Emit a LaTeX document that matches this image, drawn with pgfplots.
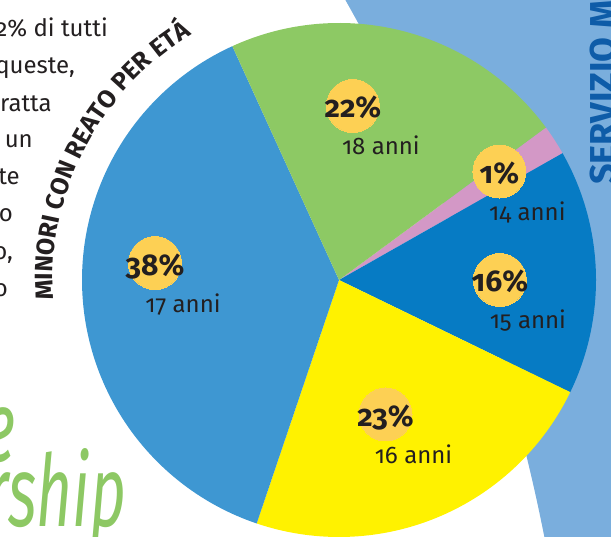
\documentclass[border=0pt]{standalone}
\usepackage{fontspec}
\setmainfont{Fira Sans}[Numbers=OldStyle]
\usepackage{pgfplots}
\pgfplotsset{compat=1.18}
\usepackage{pgfplotstable}
\usetikzlibrary{decorations.text}

\definecolor{cGreen}{RGB}{141,201,100}
\definecolor{cPink}{RGB}{211,152,198}
\definecolor{cDark}{RGB}{6,123,196}
\definecolor{cYel}{RGB}{255,242,0}
\definecolor{cMid}{RGB}{62,151,210}
\definecolor{cBg}{RGB}{122,174,221}
\definecolor{cCirc}{RGB}{253,208,84}
\definecolor{cText}{RGB}{35,31,32}
\definecolor{cServ}{RGB}{14,92,168}
\definecolor{cScript}{RGB}{141,200,100}

% slice shares (percent), drawn clockwise starting at 36.4 degrees
\pgfplotstableread{
pct   age
1.9   14
15.4  15
23.0  16
38.0  17
21.7  18
}\piedata

% label positions (axis units) with printed percentages and ages
\pgfplotstableread{
x      y      pct age
0.054  0.677  22  18
0.624  0.422  1   14
0.626  0.000  16  15
0.181  -0.523 23  16
-0.716 0.066  38  17
}\labeldata

\def\startangle{36.4}
\pgfplotstablegetelem{0}{pct}\of\piedata \pgfmathsetmacro\pA{\pgfplotsretval}
\pgfplotstablegetelem{1}{pct}\of\piedata \pgfmathsetmacro\pB{\pgfplotsretval}
\pgfplotstablegetelem{2}{pct}\of\piedata \pgfmathsetmacro\pC{\pgfplotsretval}
\pgfplotstablegetelem{3}{pct}\of\piedata \pgfmathsetmacro\pD{\pgfplotsretval}
\pgfplotstablegetelem{4}{pct}\of\piedata \pgfmathsetmacro\pE{\pgfplotsretval}
\pgfmathsetmacro\aA{\startangle}
\pgfmathsetmacro\aB{\aA-3.6*\pA}
\pgfmathsetmacro\aC{\aB-3.6*\pB}
\pgfmathsetmacro\aD{\aC-3.6*\pC}
\pgfmathsetmacro\aE{\aD-3.6*\pD}
\pgfmathsetmacro\aF{\aE-3.6*\pE}

\begin{document}
\begin{tikzpicture}[x=1bp,y=1bp]
\useasboundingbox (0,0) rectangle (611,537);
\clip (0,0) rectangle (611,537);
% light blue background shape
\fill[cBg, even odd rule] (-10,-10) rectangle (621,547) (-1224.5,-350) circle[radius=1802.8];
\node[rotate=90, anchor=base west, inner sep=0pt, text=cServ, font=\bfseries\fontsize{36bp}{40bp}\selectfont] at (615,352) {SERVIZIO MINORI};

% cropped paragraph on the left
\begin{scope}[every node/.style={anchor=base east, inner sep=0pt, text=cText, font=\fontsize{24bp}{28bp}\selectfont}]
\node at (108,500) {2\% di tutti};
\node at (75,463) {queste,};
\node at (52,425) {ratta};
\node at (33,389) {un};
\node at (20,352) {te};
\node at (13,315) {o};
\node at (13,277) {o,};
\node at (8,240) {o};
\end{scope}

% green script word
\node[anchor=base east, inner sep=0pt, text=cScript, font=\itshape\fontsize{100bp}{100bp}\selectfont, xscale=0.62] at (126,10) {rship};
\node[anchor=base east, inner sep=0pt, text=cScript, font=\itshape\fontsize{100bp}{100bp}\selectfont, xscale=0.62] at (16,75) {e};

% curved title
\path[decorate, decoration={text along path, text align=left,
  text={|\color{cText}\bfseries\fontsize{25bp}{30bp}\selectfont|MINORI CON REATO PER ETÁ}}]
  ([shift={(184:286)}]339,257) arc[start angle=184, end angle=100, radius=286];

\begin{axis}[at={(339bp,257bp)}, anchor=center, scale only axis,
  width=514bp, height=514bp, xmin=-1, xmax=1, ymin=-1, ymax=1,
  hide axis, clip=false]
\addplot[fill=cPink, draw=none, domain=\aB:\aA, samples=8, variable=\t] ({cos(\t)},{sin(\t)}) -- (axis cs:0,0) -- cycle;
\addplot[fill=cDark, draw=none, domain=\aC:\aB, samples=50, variable=\t] ({cos(\t)},{sin(\t)}) -- (axis cs:0,0) -- cycle;
\addplot[fill=cYel, draw=none, domain=\aD:\aC, samples=70, variable=\t] ({cos(\t)},{sin(\t)}) -- (axis cs:0,0) -- cycle;
\addplot[fill=cMid, draw=none, domain=\aE:\aD, samples=110, variable=\t] ({cos(\t)},{sin(\t)}) -- (axis cs:0,0) -- cycle;
\addplot[fill=cGreen, draw=none, domain=\aF:\aE, samples=70, variable=\t] ({cos(\t)},{sin(\t)}) -- (axis cs:0,0) -- cycle;

\addplot[color=cCirc, only marks, mark=*, mark size=26.5bp, mark options={draw=cCirc, fill=cCirc, line width=0pt},
  point meta=explicit symbolic, nodes near coords={\bfseries\pgfplotspointmeta\%},
  every node near coord/.append style={anchor=base, yshift=-12bp, inner sep=0pt, text=cText,
    font=\fontsize{30bp}{32bp}\selectfont}]
  table[x=x, y=y, meta=pct] {\labeldata};
\addplot[color=cText, only marks, mark=*, mark size=0.1pt, mark options={draw=none, fill=none},
  point meta=explicit symbolic, nodes near coords={\pgfplotspointmeta\ anni},
  every node near coord/.append style={anchor=base, xshift=28bp, yshift=-49bp, inner sep=0pt, text=cText,
    font=\fontsize{24bp}{28bp}\selectfont}]
  table[x=x, y=y, meta=age] {\labeldata};
\end{axis}
\end{tikzpicture}
\end{document}
